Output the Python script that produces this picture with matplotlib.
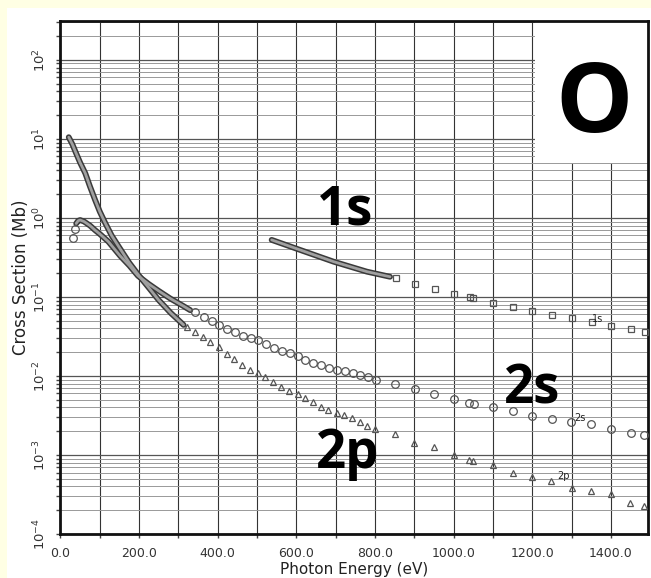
import matplotlib.pyplot as plt
from matplotlib.patches import Rectangle
from matplotlib.ticker import FixedLocator, LogLocator, MultipleLocator, NullFormatter

# Oxygen subshell photoionization cross sections.
# Energies in eV, cross sections in Mb.

# dense (overlapping markers) parts, drawn as a band
e_1s_band = [537, 609, 694, 779, 838]
cs_1s_band = [0.527, 0.394, 0.28, 0.209, 0.18]

e_2s_band = [40, 45, 50, 60, 75, 88, 101, 122, 152, 175, 197, 225, 250, 280, 310, 330]
cs_2s_band = [0.85, 0.92, 0.94, 0.9, 0.8, 0.70, 0.62, 0.5, 0.33, 0.25, 0.185, 0.145, 0.119, 0.095, 0.078, 0.068]

e_2p_band = [21, 30, 38, 50, 63, 75, 88, 100, 114, 130, 148, 175, 200, 225, 250, 280, 313]
cs_2p_band = [10.5, 8.6, 6.9, 5.0, 3.68, 2.5, 1.69, 1.2, 0.857, 0.6, 0.434, 0.27, 0.185, 0.13,
              0.091, 0.063, 0.0443]

# single markers
e_1s = [853, 902, 952, 1001, 1042, 1050, 1101, 1150, 1200, 1251, 1301, 1351, 1401, 1450, 1486]
cs_1s = [0.173, 0.146, 0.126, 0.109, 0.101, 0.0964, 0.0847, 0.0754, 0.067, 0.0588, 0.0537,
         0.0487, 0.0433, 0.0393, 0.0364]

e_2s = [31, 36, 343, 364, 385, 404, 423, 444, 465, 485, 503, 523, 542, 563, 584, 603, 622, 642,
        663, 682, 703, 724, 743, 762, 781, 802, 850, 901, 951, 1001, 1040, 1052, 1101, 1150,
        1200, 1249, 1298, 1348, 1400, 1450, 1485]
cs_2s = [0.55, 0.72, 0.065, 0.0553, 0.0502, 0.0443, 0.0394, 0.0363, 0.032, 0.0305, 0.0286,
         0.0252, 0.0224, 0.0209, 0.0194, 0.0179, 0.0159, 0.0147, 0.0138, 0.0127, 0.0119, 0.0117,
         0.0108, 0.0103, 0.00964, 0.0089, 0.0078, 0.0068, 0.0059, 0.00507, 0.00459, 0.00443,
         0.00409, 0.0036, 0.00315, 0.00283, 0.00264, 0.00245, 0.00213, 0.00191, 0.00179]

e_2p = [321, 343, 362, 381, 404, 423, 442, 461, 482, 501, 520, 540, 560, 582, 603, 622, 642,
        662, 681, 702, 722, 742, 761, 780, 801, 850, 900, 951, 1001, 1040, 1050, 1101, 1150,
        1200, 1248, 1300, 1348, 1399, 1448, 1484]
cs_2p = [0.042, 0.036, 0.031, 0.027, 0.023, 0.0192, 0.0162, 0.0138, 0.0119, 0.0108, 0.0096,
         0.0084, 0.0072, 0.0065, 0.00586, 0.00522, 0.00473, 0.00409, 0.00371, 0.00343, 0.0032,
         0.0029, 0.00264, 0.00235, 0.00211, 0.00186, 0.00142, 0.00125, 0.001, 0.000865,
         0.00084, 0.000747, 0.000597, 0.000522, 0.000469, 0.000386, 0.00035, 0.000318,
         0.000249, 0.000228]

x_ticks = [0, 200, 400, 600, 800, 1000, 1200, 1400]
y_ticks = [1e-4, 1e-3, 1e-2, 1e-1, 1e0, 1e1, 1e2]
y_exps = [-4, -3, -2, -1, 0, 1, 2]

BIG = ["Open Sans", "DejaVu Sans"]

fig = plt.figure(figsize=(6.51, 5.78), dpi=100, facecolor="#ffffe4")
fig.add_artist(Rectangle((7 / 651, 0), 1, 570 / 578, transform=fig.transFigure,
                         facecolor="white", edgecolor="none", zorder=0))

ax = fig.add_axes([0.0929, 0.0761, 0.9025, 0.8875])
ax.set_facecolor("white")
ax.set_yscale("log")
ax.set_xlim(0, 1494)
ax.set_ylim(1e-4, 310)

ax.xaxis.set_major_locator(FixedLocator(x_ticks))
ax.xaxis.set_minor_locator(MultipleLocator(100))
ax.set_xticks(x_ticks, [f"{v:.1f}" for v in x_ticks])
ax.set_yticks(y_ticks, [rf"$10^{{{p}}}$" for p in y_exps], rotation=90, va="center")
ax.yaxis.set_minor_locator(LogLocator(base=10, subs=range(2, 10)))
ax.yaxis.set_minor_formatter(NullFormatter())

ax.tick_params(which="both", direction="out", length=3, width=1, color="#444")
ax.tick_params(axis="x", labelsize=9, labelcolor="#333", pad=6)
ax.tick_params(axis="y", labelsize=9.5, labelcolor="#333", pad=6)

ax.set_axisbelow(True)
ax.grid(axis="x", which="both", color="#333", lw=0.8)
ax.grid(axis="y", which="major", color="#555", lw=0.9)
ax.grid(axis="y", which="minor", color="#999", lw=0.7)
for s in ax.spines.values():
    s.set_linewidth(2)
    s.set_color("#111")

# white box behind the element label hides the grid
ax.add_patch(Rectangle((1206, 4.97), 400, 400, facecolor="white", edgecolor="none", zorder=1.5))

# dense bands
for e, cs in [(e_1s_band, cs_1s_band), (e_2s_band, cs_2s_band), (e_2p_band, cs_2p_band)]:
    ax.plot(e, cs, color="#3a3a3a", lw=4.2, solid_capstyle="round", zorder=3)
    ax.plot(e, cs, color="#a0a0a0", lw=2.0, solid_capstyle="round", zorder=3.1)

mk = dict(ls="none", mfc="none", mec="#555", mew=0.9, zorder=4)
ax.plot(e_1s, cs_1s, marker="s", ms=5, **mk)
ax.plot(e_2s, cs_2s, marker="o", ms=5.5, **mk)
ax.plot(e_2p, cs_2p, marker="^", ms=5, **mk)

# small curve labels from the original plot
ax.text(1367, 0.0527, "1s", fontsize=7, color="#222", ha="center", va="center", zorder=5)
ax.text(1321, 0.00294, "2s", fontsize=7, color="#222", ha="center", va="center", zorder=5)
ax.text(1278, 0.000542, "2p", fontsize=7, color="#222", ha="center", va="center", zorder=5)

# big overlay labels
ax.text(725, 0.815, "1s", family=BIG, weight="bold", fontsize=38, ha="center", va="baseline", zorder=6)
ax.text(1200, 0.00442, "2s", family=BIG, weight="bold", fontsize=38, ha="center", va="baseline", zorder=6)
ax.text(731, 0.000684, "2p", family=BIG, weight="bold", fontsize=38, ha="center", va="baseline", zorder=6)
ax.text(1357, 12.3, "O", family=BIG, weight="bold", fontsize=70, ha="center", va="baseline", zorder=6)

ax.set_xlabel("Photon Energy (eV)", fontsize=11, color="#222", labelpad=2)
ax.set_ylabel("Cross Section (Mb)", fontsize=12, color="#222", labelpad=1)

fig.savefig("out.png", dpi=100, facecolor=fig.get_facecolor())
